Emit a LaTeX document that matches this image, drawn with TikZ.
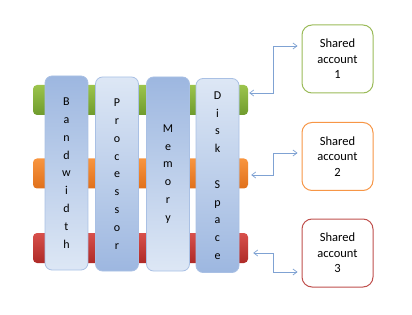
\documentclass[tikz,border=0pt]{standalone}
\usepackage{fontspec}
\setmainfont{Carlito}
\usetikzlibrary{positioning,arrows.meta,calc}

\definecolor{colblue}{HTML}{9DB7E0}
\definecolor{collight}{HTML}{DDE7F5}
\definecolor{coledge}{HTML}{A9C0E4}
\definecolor{linkblue}{HTML}{7FA2D3}
\definecolor{grtop}{HTML}{9CC44C}
\definecolor{grbot}{HTML}{6F9B2D}
\definecolor{ortop}{HTML}{F8953F}
\definecolor{orbot}{HTML}{E0701B}
\definecolor{rdtop}{HTML}{D8504B}
\definecolor{rdbot}{HTML}{AE2A27}
\definecolor{grline}{HTML}{9BBB59}
\definecolor{orline}{HTML}{F79646}
\definecolor{rdline}{HTML}{C0504D}

\begin{document}
\begin{tikzpicture}[
  x=1pt, y=-1pt,
  >=Stealth,
  barnode/.style={rectangle, rounded corners=4pt, minimum width=215pt, minimum height=30pt, inner sep=0pt},
  resnode/.style={rectangle, rounded corners=7pt, draw=coledge, line width=0.8pt, minimum width=43pt, minimum height=194pt, inner sep=0pt, align=center, font=\fontsize{12}{17.8}\selectfont},
  darkres/.style={resnode, top color=colblue, bottom color=collight},
  lightres/.style={resnode, top color=collight, bottom color=colblue},
  accnode/.style={rectangle, rounded corners=10pt, fill=white, line width=1pt, minimum width=71pt, minimum height=68pt, inner sep=0pt, align=center, font=\fontsize{12.5}{15.5}\selectfont},
  linkmap/.style={{Straight Barb[length=4pt,width=6pt]}-{Straight Barb[length=4pt,width=6pt]}, draw=linkblue, line width=0.7pt}
]
  \useasboundingbox (0,0) rectangle (412,315);

  % colour bars behind the columns
  \node[barnode, top color=grtop, bottom color=grbot] (gbar) at (140.5,100) {};
  \node[barnode, top color=ortop, bottom color=orbot] (obar) at (140.5,173.5) {};
  \node[barnode, top color=rdtop, bottom color=rdbot] (rbar) at (140.5,248) {};

  % resource columns
  \node[darkres] (bw) at (66.5,173) {B\\a\\n\\d\\w\\i\\d\\t\\h};
  \node[lightres] (cpu) at (117,174) {P\\r\\o\\c\\e\\s\\s\\o\\r};
  \node[darkres] (mem) at (168,174) {M\\e\\m\\o\\r\\y};
  \node[lightres] (disk) at (217.5,175.5) {D\\i\\s\\k\\ \mbox{}\\S\\p\\a\\c\\e};

  % accounts
  \node[accnode, draw=grline] (acc1) at (337.5,59) {Shared\\account\\1};
  \node[accnode, draw=orline] (acc2) at (337.5,156.5) {Shared\\account\\2};
  \node[accnode, draw=rdline] (acc3) at (337.5,253) {Shared\\account\\3};

  \draw[linkmap] ([xshift=1pt,yshift=7pt]gbar.east) -- ++(24,0) |- ([xshift=-4pt,yshift=13pt]acc1.west);
  \draw[linkmap] ([xshift=3pt,yshift=-1.5pt]obar.east) -- ++(22,0) |- ([xshift=-4pt,yshift=3.5pt]acc2.west);
  \draw[linkmap] ([xshift=5pt,yshift=-5pt]rbar.east) -- ++(20,0) |- ([xshift=-4pt,yshift=-19pt]acc3.west);
\end{tikzpicture}
\end{document}
